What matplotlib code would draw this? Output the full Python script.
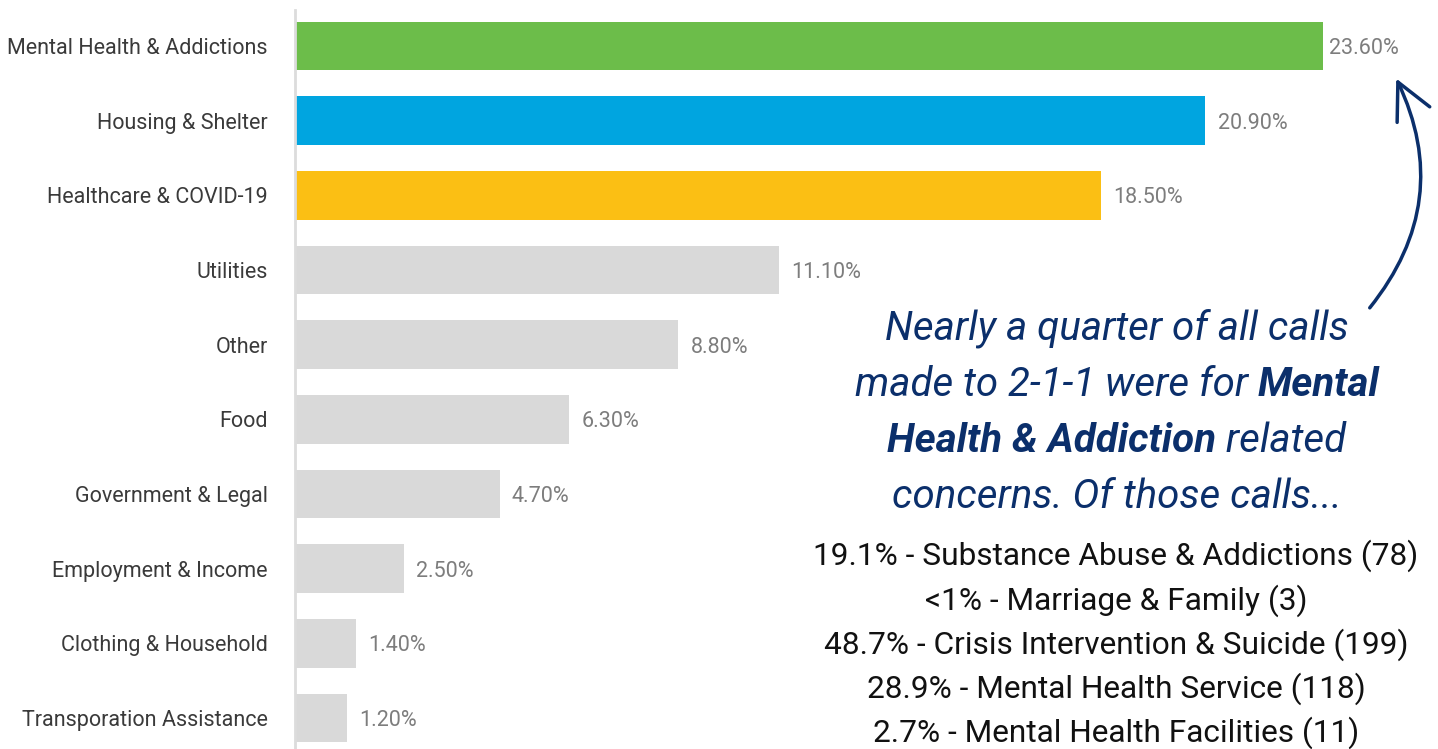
import matplotlib.pyplot as plt
from matplotlib.patches import FancyArrowPatch

# --- data ---
categories = ["Mental Health & Addictions", "Housing & Shelter", "Healthcare & COVID-19",
              "Utilities", "Other", "Food", "Government & Legal", "Employment & Income",
              "Clothing & Household", "Transporation Assistance"]
shares = [23.6, 20.9, 18.5, 11.1, 8.8, 6.3, 4.7, 2.5, 1.4, 1.2]
bar_colors = ["#6cbd4a", "#00a5e0", "#fbbf14"] + ["#d9d9d9"] * 7

breakdown = ["19.1% - Substance Abuse & Addictions (78)",
             "<1% - Marriage & Family (3)",
             "48.7% - Crisis Intervention & Suicide (199)",
             "28.9% - Mental Health Service (118)",
             "2.7% - Mental Health Facilities (11)"]

navy = "#0b2f6b"
W, H = 1438, 749

fig = plt.figure(figsize=(W / 100, H / 100), dpi=100)
ax = fig.add_axes([295 / W, 0, (W - 295) / W, (H - 10) / H])

y = list(range(len(categories)))
ax.barh(y, shares, height=0.655, color=bar_colors)
ax.set_xlim(0, (W - 295) / 43.56)
ax.set_ylim(9.415, -0.482)

for yi, v in zip(y, shares):
    pad = 0.14 if yi == 0 else 0.28
    ax.text(v + pad, yi, f"{v:.2f}%", va="center_baseline", ha="left",
            fontsize=15.5, color="#7d7d7d", family="Roboto")

ax.set_yticks(y)
ax.set_yticklabels(categories, fontsize=15.5, color="#3a3a3a", family="Roboto")
ax.tick_params(axis="y", length=0, pad=19.5)
ax.set_xticks([])
for s in ["top", "right", "bottom"]:
    ax.spines[s].set_visible(False)
ax.spines["left"].set_color("#dcdcdc")
ax.spines["left"].set_linewidth(2)

# --- callout text, mixed italic / bold italic, centred per line ---
cx = 1117 / W
lines = [
    [("Nearly a quarter of all calls", "normal")],
    [("made to 2-1-1 were for ", "normal"), ("Mental", "bold")],
    [("Health & Addiction", "bold"), (" related", "normal")],
    [("concerns. Of those calls...", "normal")],
]
line_y = [328, 385, 441, 497]
renderer = fig.canvas.get_renderer()
for parts, ly in zip(lines, line_y):
    texts = []
    for txt, wt in parts:
        t = fig.text(0, 1 - ly / H, txt, fontsize=29, style="italic", weight=wt,
                     color=navy, family="Roboto", va="center", ha="left")
        texts.append(t)
    widths = [t.get_window_extent(renderer).width for t in texts]
    x0 = cx * W - sum(widths) / 2
    for t, w in zip(texts, widths):
        t.set_x(x0 / W)
        x0 += w

for i, line in enumerate(breakdown):
    fig.text(1116 / W, 1 - (556 + 44.3 * i) / H, line, fontsize=22.8, color="#111111",
             family="Roboto", ha="center", va="center")

# --- curved arrow pointing at the top bar ---
arrow = FancyArrowPatch((1368 / W, 1 - 310 / H), (1395 / W, 1 - 76 / H),
                        transform=fig.transFigure, connectionstyle="arc3,rad=0.32",
                        arrowstyle="->,head_length=2.6,head_width=1.3",
                        color=navy, linewidth=2.5, mutation_scale=10)
fig.patches.append(arrow)

fig.savefig("out.png", dpi=100)
